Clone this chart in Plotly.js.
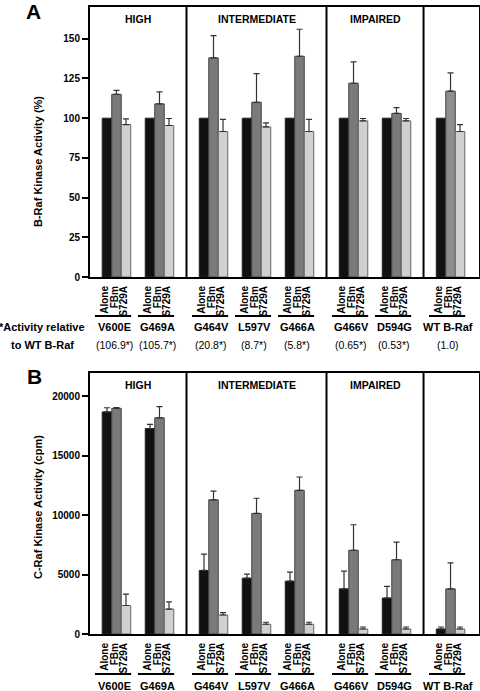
<!DOCTYPE html>
<html><head><meta charset="utf-8">
<script src="https://cdn.plot.ly/plotly-3.0.1.min.js"></script>
<style>html,body{margin:0;padding:0;background:#fff}</style>
</head><body><div id="chart" style="width:480px;height:691px"></div>
<script>
// ---------- data ----------
const mutants = ['V600E','G469A','G464V','L597V','G466A','G466V','D594G','WT B-Raf'];
const sectionOf = [0,0,1,1,1,2,2,3];
const sections = ['HIGH','INTERMEDIATE','IMPAIRED',''];
const treatments = ['Alone','FBm','S729A'];
const relActivity = ['(106.9*)','(105.7*)','(20.8*)','(8.7*)','(5.8*)','(0.65*)','(0.53*)','(1.0)'];

// Panel A: B-Raf kinase activity (%)
const bAlone    = [100,100,100,100,100,100,100,100];
const bFBm      = [115,109,138,110,139,122,103,117];
const bFBmErr   = [2.5,7.5,14,18,17,13.5,3.7,11.5];
const bS729A    = [96,95.4,91.6,94.5,91.6,98.3,98.3,91.6];
const bS729AErr = [3.6,4.4,7.6,2.5,7.6,1.5,1.5,4.4];

// Panel B: C-Raf kinase activity (cpm)
const cAlone    = [18700,17300,5350,4700,4450,3800,3030,420];
const cAloneErr = [350,350,1380,340,760,1500,980,170];
const cFBm      = [19000,18200,11300,10150,12100,7050,6250,3800];
const cFBmErr   = [60,950,730,1280,1120,2150,1490,2180];
const cS729A    = [2400,2100,1600,820,820,420,420,420];
const cS729AErr = [950,600,200,170,170,170,170,170];

const bTicks = [0,25,50,75,100,125,150];
const cTicks = [0,5000,10000,15000,20000];

// ---------- layout helpers ----------
const W = 480, H = 691;
const SECTION_GAP = 0.256;
const BARGAP = 0.337;
const barW = (1 - BARGAP) / 3;
const pos = mutants.map((m, i) => i + sectionOf[i] * SECTION_GAP);
const XR = [-0.616, 8.43];
const py = px => 1 - px / H;

const FONT = 'Liberation Sans, Arial, Helvetica, sans-serif';
const BOLD = 700;
const colAlone = '#111111', colFBm = '#7a7a7a', colS = '#d0d0d0';

const LBL_SHIFT = -0.05;
const tickPos = [], tickTxt = [];
pos.forEach(p => treatments.forEach((t, k) => { tickPos.push(p + (k - 1) * barW + LBL_SHIFT); tickTxt.push('<b>' + t + '</b>'); }));

function errUp(arr) {
  return arr ? {type:'data', symmetric:false, array:arr, arrayminus:arr.map(()=>0),
    color:'#333', thickness:1.2, width:3, visible:true} : {visible:false};
}
function mk(name, y, err, color, lineCol, xa, ya) {
  return {type:'bar', name:name, x:pos, y:y, xaxis:xa, yaxis:ya,
    marker:{color:color, line:{color:lineCol, width:1}},
    error_y: errUp(err), showlegend:false, hoverinfo:'skip'};
}

const fbmColA = mutants.map((m,i) => i === 7 ? '#8e8e8e' : colFBm);

const traces = [
  mk('Alone', bAlone, null, colAlone, '#222', 'x', 'y'),
  mk('FBm', bFBm, bFBmErr, fbmColA, '#444', 'x', 'y'),
  mk('S729A', bS729A, bS729AErr, colS, '#666', 'x', 'y'),
  mk('Alone', cAlone, cAloneErr, colAlone, '#222', 'x2', 'y2'),
  mk('FBm', cFBm, cFBmErr, colFBm, '#444', 'x2', 'y2'),
  mk('S729A', cS729A, cS729AErr, colS, '#666', 'x2', 'y2'),
];

// panel geometry (px)
const A = {top:7, bot:277, uline:316, name:327, rel:345, sec:19};
const B = {top:372.7, bot:634, uline:674, name:685.7, sec:384.7};

function xax(anchor) {
  return {domain:[90/W, 479/W], range:XR, anchor:anchor, showgrid:false, zeroline:false,
    showline:true, linewidth:2, linecolor:'#000', mirror:true, ticks:'',
    tickmode:'array', tickvals:tickPos, ticktext:tickTxt, tickangle:-90,
    tickfont:{family:FONT, size:10, color:'#000', weight:BOLD}, ticklabelstandoff:3, fixedrange:true};
}
function yax(anchor, dom, range, ticks) {
  return {domain:dom, range:range, anchor:anchor, showgrid:false, zeroline:false,
    showline:true, linewidth:2, linecolor:'#000', mirror:true, ticks:'outside', ticklen:6,
    tickwidth:2, tickcolor:'#000', tickmode:'array', tickvals:ticks,
    ticktext:ticks.map(v => '<b>' + v + '</b>'),
    tickfont:{family:FONT, size:10, color:'#000', weight:BOLD}, fixedrange:true};
}

// separators between sections (midpoints between neighbouring groups of different sections)
const seps = [];
for (let i = 1; i < pos.length; i++) if (sectionOf[i] !== sectionOf[i-1]) seps.push((pos[i] + pos[i-1]) / 2);
const secBounds = [XR[0], ...seps, XR[1]];

const shapes = [], annotations = [];
[['x','y'],['x2','y2']].forEach(([xa, ya]) => {
  seps.forEach(s => shapes.push({type:'line', xref:xa, yref:ya + ' domain', x0:s, x1:s, y0:0, y1:1,
    line:{color:'#000', width:2}}));
});

const boldFont = (size) => ({family:FONT, size:size, color:'#000', weight:BOLD});

[[A,'x'],[B,'x2']].forEach(([P, xa]) => {
  pos.forEach((p, i) => {
    shapes.push({type:'line', xref:xa, yref:'paper', x0:p - 0.45 + LBL_SHIFT, x1:p + 0.39 + LBL_SHIFT,
      y0:py(P.uline), y1:py(P.uline), line:{color:'#000', width:1.8}});
    annotations.push({xref:xa, yref:'paper', x:p + LBL_SHIFT, y:py(P.name), text:'<b>' + mutants[i] + '</b>', showarrow:false,
      xanchor:'center', yanchor:'middle', font:boldFont(11)});
  });
  sections.forEach((s, k) => {
    if (!s) return;
    annotations.push({xref:xa, yref:'paper', x:(secBounds[k] + secBounds[k+1]) / 2, y:py(P.sec), text:'<b>' + s + '</b>',
      showarrow:false, xanchor:'center', yanchor:'middle', font:boldFont(10.5)});
  });
});
pos.forEach((p, i) => annotations.push({xref:'x', yref:'paper', x:p + LBL_SHIFT, y:py(A.rel), text:relActivity[i],
  showarrow:false, xanchor:'center', yanchor:'middle', font:{family:FONT, size:10.5, color:'#000'}}));
annotations.push({xref:'paper', yref:'paper', x:42/W, y:py(A.name), text:'<b>*Activity relative</b>', showarrow:false,
  xanchor:'center', yanchor:'middle', font:boldFont(11)});
annotations.push({xref:'paper', yref:'paper', x:42/W, y:py(A.rel), text:'<b>to WT B-Raf</b>', showarrow:false,
  xanchor:'center', yanchor:'middle', font:boldFont(11)});
// panel letters
annotations.push({xref:'paper', yref:'paper', x:33/W, y:py(11), text:'<b>A</b>', showarrow:false,
  xanchor:'center', yanchor:'middle', font:boldFont(21)});
annotations.push({xref:'paper', yref:'paper', x:34/W, y:py(376), text:'<b>B</b>', showarrow:false,
  xanchor:'center', yanchor:'middle', font:boldFont(21)});
// y-axis titles
annotations.push({xref:'paper', yref:'paper', x:38/W, y:py(162), text:'<b>B-Raf Kinase Activity (%)</b>', showarrow:false,
  textangle:-90, xanchor:'center', yanchor:'middle', font:boldFont(11)});
annotations.push({xref:'paper', yref:'paper', x:38/W, y:py(507), text:'<b>C-Raf Kinase Activity (cpm)</b>', showarrow:false,
  textangle:-90, xanchor:'center', yanchor:'middle', font:boldFont(11)});

const layout = {
  width:W, height:H, margin:{l:0, r:0, t:0, b:0},
  paper_bgcolor:'#fff', plot_bgcolor:'#fff',
  barmode:'group', bargap:BARGAP, bargroupgap:0, hovermode:false,
  font:{family:FONT, color:'#000'},
  xaxis: xax('y'),
  yaxis: yax('x', [py(A.bot), py(A.top)], [0,170], bTicks),
  xaxis2: xax('y2'),
  yaxis2: yax('x2', [py(B.bot), py(B.top)], [0,22000], cTicks),
  shapes: shapes, annotations: annotations
};

Plotly.newPlot('chart', traces, layout, {displayModeBar:false, staticPlot:true});
</script>
</body></html>
